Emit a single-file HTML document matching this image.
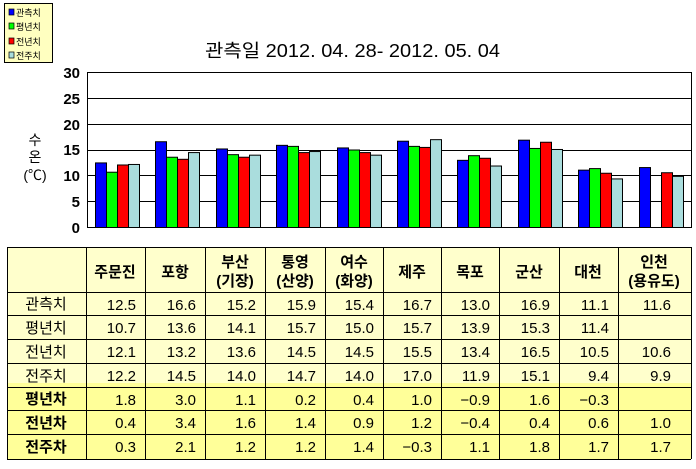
<!DOCTYPE html>
<html><head><meta charset="utf-8">
<style>
body{margin:0;background:#fff;width:696px;height:464px;overflow:hidden;font-family:"Liberation Sans","Noto Sans CJK KR",sans-serif;}
svg text{font-family:"Liberation Sans","Noto Sans CJK KR",sans-serif;}
</style></head><body>
<svg id="s" width="696" height="464" xmlns="http://www.w3.org/2000/svg">
<rect x="4.5" y="3.5" width="48" height="59" fill="#FFFFC0" stroke="#000"/>
<rect x="9" y="9" width="5" height="6" fill="#0000FF" stroke="#000" stroke-width="0.7"/>
<rect x="9" y="23" width="5" height="6" fill="#00FF00" stroke="#000" stroke-width="0.7"/>
<rect x="9" y="38" width="5" height="6" fill="#FF0000" stroke="#000" stroke-width="0.7"/>
<rect x="9" y="52" width="5" height="6" fill="#AADDDD" stroke="#000" stroke-width="0.7"/>
<g font-size="9" fill="#000">
<text x="16" y="16">관측치</text>
<text x="16" y="30">평년치</text>
<text x="16" y="45">전년치</text>
<text x="16" y="59">전주치</text>
</g>
<text x="205" y="57" font-size="18" textLength="295" lengthAdjust="spacingAndGlyphs">관측일 2012. 04. 28-  2012. 05. 04</text>
<g id="grid" stroke="#000" stroke-width="1"></g>
<g font-size="15" font-weight="bold" text-anchor="end">
<text x="80" y="78">30</text><text x="80" y="104">25</text><text x="80" y="130">20</text>
<text x="80" y="155">15</text><text x="80" y="181">10</text><text x="80" y="207">5</text><text x="80" y="233">0</text>
</g>
<g font-size="14" text-anchor="middle">
<text x="35" y="145">수</text><text x="35" y="162">온</text><text x="35" y="180">(℃)</text>
</g>
<g id="bars"></g>
<rect x="87.5" y="72.5" width="604" height="155" fill="none" stroke="#000"/>
<rect x="7" y="247" width="684" height="136" fill="#FFFFCC"/>
<rect x="7" y="383" width="684" height="76" fill="#FFFF99"/>
<g id="tbl" stroke="#000" stroke-width="1"></g>
<g font-size="15" text-anchor="middle" font-weight="bold">
<text x="115" y="277">주문진</text><text x="175" y="277">포항</text>
<text x="235" y="267">부산</text><text x="235" y="286">(기장)</text>
<text x="295" y="267">통영</text><text x="295" y="286">(산양)</text>
<text x="354" y="267">여수</text><text x="354" y="286">(화양)</text>
<text x="412" y="277">제주</text><text x="470" y="277">목포</text>
<text x="529" y="277">군산</text><text x="588" y="277">대천</text>
<text x="654" y="267">인천</text><text x="654" y="286">(용유도)</text>
</g>
<g font-size="15" text-anchor="middle">
<text x="46" y="309">관측치</text><text x="46" y="333">평년치</text>
<text x="46" y="357">전년치</text><text x="46" y="381">전주치</text>
</g>
<g font-size="15" text-anchor="middle" font-weight="bold">
<text x="46" y="404">평년차</text><text x="46" y="428">전년차</text><text x="46" y="452">전주차</text>
</g>
<g id="vals" font-size="15" text-anchor="end"></g>
</svg>
<script>
var NS="http://www.w3.org/2000/svg";
function el(p,t,a,txt){var e=document.createElementNS(NS,t);for(var k in a)e.setAttribute(k,a[k]);if(txt!=null)e.textContent=txt;document.getElementById(p).appendChild(e);}
for(var v=5;v<30;v+=5){var y=Math.round(227-v*155/30)+0.5;el("grid","line",{x1:87,x2:691,y1:y,y2:y});}
var D=[[12.5,16.6,15.2,15.9,15.4,16.7,13.0,16.9,11.1,11.6],
[10.7,13.6,14.1,15.7,15.0,15.7,13.9,15.3,11.4,null],
[12.1,13.2,13.6,14.5,14.5,15.5,13.4,16.5,10.5,10.6],
[12.2,14.5,14.0,14.7,14.0,17.0,11.9,15.1,9.4,9.9]];
var C=["#0000FF","#00FF00","#FF0000","#AADDDD"];
for(var i=0;i<10;i++){var gx=87+60.4*i;for(var s=0;s<4;s++){var v=D[s][i];if(v==null)continue;var h=v*155/30;
el("bars","rect",{x:(Math.round(gx+8+s*11)+0.5),y:(227.5-h),width:11,height:h,fill:C[s],stroke:"#000","stroke-width":1});}}
var cols=[7,86,145,205,265,325,383,441,499,559,618,691];
var rows=[247,292,315,339,363,387,410,434,459];
cols.forEach(function(x){el("tbl","line",{x1:x+0.5,x2:x+0.5,y1:247,y2:459});});
rows.forEach(function(y){el("tbl","line",{x1:7,x2:691,y1:y+0.5,y2:y+0.5});});
var T=[D[0],D[1],D[2],D[3],
[1.8,3.0,1.1,0.2,0.4,1.0,-0.9,1.6,-0.3,null],
[0.4,3.4,1.6,1.4,0.9,1.2,-0.4,0.4,0.6,1.0],
[0.3,2.1,1.2,1.2,1.4,-0.3,1.1,1.8,1.7,1.7]];
for(var r=0;r<7;r++)for(var c=0;c<10;c++){var v=T[r][c];if(v==null)continue;
var xr=(c==9)?cols[c+2]-20:cols[c+2]-9;
el("vals","text",{x:xr,y:rows[r+1]+18},v.toFixed(1).replace("-","−"));}
</script>
</body></html>
